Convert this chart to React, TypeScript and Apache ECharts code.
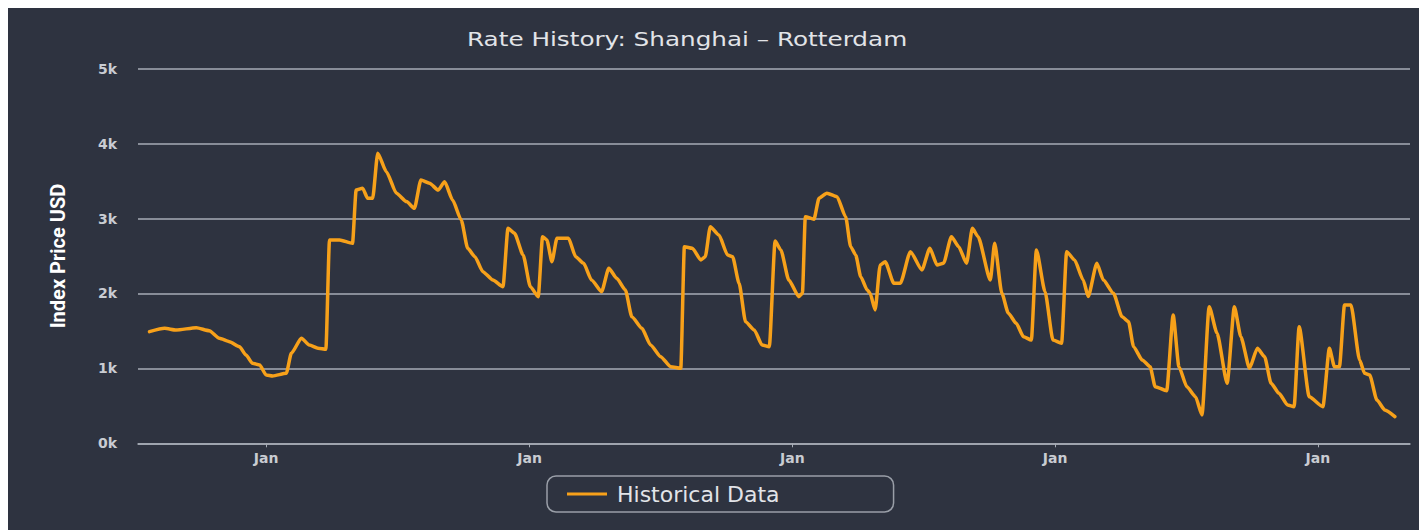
import React, { useEffect, useRef } from "react";
import * as echarts from "echarts";

const chartTitle = "Rate History: Shanghai – Rotterdam";
const yAxisTitle = "Index Price USD";
const seriesName = "Historical Data";
const yTicks = [0, 1000, 2000, 3000, 4000, 5000];
const axisStart = "2019-07-07";
const axisEnd = "2024-05-08";

const dates = [
  "2019-07-23", "2019-08-13", "2019-08-29", "2019-09-26", "2019-10-14", "2019-10-28", "2019-11-11", "2019-11-25",
  "2019-12-04", "2019-12-13", "2019-12-23", "2020-01-01", "2020-01-10", "2020-01-29", "2020-02-05", "2020-02-19",
  "2020-03-01", "2020-03-13", "2020-03-24", "2020-03-29", "2020-04-12", "2020-04-30", "2020-05-05", "2020-05-14",
  "2020-05-21", "2020-05-28", "2020-06-04", "2020-06-16", "2020-06-30", "2020-07-14", "2020-07-25", "2020-08-03",
  "2020-08-15", "2020-08-27", "2020-09-05", "2020-09-16", "2020-09-28", "2020-10-07", "2020-10-17", "2020-10-28",
  "2020-11-11", "2020-11-25", "2020-12-02", "2020-12-11", "2020-12-23", "2021-01-02", "2021-01-13", "2021-01-19",
  "2021-01-25", "2021-02-01", "2021-02-08", "2021-02-24", "2021-03-06", "2021-03-17", "2021-03-28", "2021-04-11",
  "2021-04-21", "2021-05-02", "2021-05-14", "2021-05-23", "2021-06-06", "2021-06-18", "2021-07-02", "2021-07-16",
  "2021-07-30", "2021-08-04", "2021-08-15", "2021-08-27", "2021-09-02", "2021-09-09", "2021-09-21", "2021-10-03",
  "2021-10-10", "2021-10-19", "2021-10-28", "2021-11-09", "2021-11-20", "2021-11-30", "2021-12-08", "2021-12-16",
  "2021-12-27", "2022-01-10", "2022-01-15", "2022-01-19", "2022-01-31", "2022-02-07", "2022-02-18", "2022-03-04",
  "2022-03-16", "2022-03-23", "2022-03-30", "2022-04-06", "2022-04-15", "2022-04-19", "2022-04-26", "2022-05-03",
  "2022-05-10", "2022-05-22", "2022-05-31", "2022-06-14", "2022-06-30", "2022-07-11", "2022-07-21", "2022-07-30",
  "2022-08-10", "2022-08-20", "2022-08-31", "2022-09-08", "2022-09-16", "2022-10-03", "2022-10-09", "2022-10-19",
  "2022-10-28", "2022-11-08", "2022-11-18", "2022-11-29", "2022-12-06", "2022-12-18", "2022-12-29", "2023-01-10",
  "2023-01-17", "2023-01-28", "2023-02-09", "2023-02-16", "2023-02-28", "2023-03-09", "2023-03-23", "2023-04-04",
  "2023-04-13", "2023-04-20", "2023-05-02", "2023-05-13", "2023-05-20", "2023-06-05", "2023-06-14", "2023-06-22",
  "2023-07-03", "2023-07-15", "2023-07-24", "2023-08-03", "2023-08-14", "2023-08-28", "2023-09-07", "2023-09-16",
  "2023-09-28", "2023-10-09", "2023-10-19", "2023-10-28", "2023-11-08", "2023-11-20", "2023-11-29", "2023-12-06",
  "2023-12-20", "2024-01-08", "2024-01-17", "2024-01-24", "2024-01-31", "2024-02-07", "2024-02-16", "2024-02-28",
  "2024-03-06", "2024-03-13", "2024-03-23", "2024-04-03", "2024-04-17",
];

const values = [
  1490, 1535, 1512, 1543, 1503, 1402, 1357, 1290,
  1179, 1068, 1045, 912, 898, 934, 1201, 1402,
  1312, 1268, 1255, 2714, 2714, 2670, 3381, 3404,
  3271, 3271, 3872, 3626, 3338, 3226, 3137, 3515,
  3471, 3381, 3492, 3248, 2981, 2603, 2491, 2291,
  2180, 2091, 2870, 2804, 2514, 2091, 1957, 2758,
  2714, 2424, 2737, 2737, 2491, 2403, 2180, 2024,
  2336, 2203, 2047, 1690, 1535, 1312, 1156, 1023,
  1001, 2625, 2603, 2447, 2491, 2892, 2781, 2514,
  2491, 2136, 1623, 1513, 1312, 1290, 2700, 2581,
  2180, 1957, 2003, 3025, 2990, 3271, 3338, 3292,
  3025, 2625, 2514, 2224, 2047, 2003, 1780, 2380,
  2424, 2136, 2136, 2558, 2314, 2603, 2380, 2403,
  2758, 2625, 2403, 2870, 2758, 2180, 2670, 2003,
  1736, 1602, 1423, 1379, 2581, 2024, 1379, 1335,
  2558, 2447, 2180, 1960, 2403, 2180, 2003, 1690,
  1623, 1290, 1112, 1023, 756, 702, 1713, 1023,
  756, 622, 378, 1824, 1468, 801, 1824, 1423,
  1001, 1268, 1156, 801, 667, 511, 489, 1557,
  622, 489, 1268, 1023, 1023, 1846, 1846, 1112,
  934, 912, 578, 445, 356,
];

export default function App() {
  const ref = useRef<HTMLDivElement>(null);

  useEffect(() => {
    document.body.style.overflow = "hidden";
    if (!ref.current) return;
    const chart = echarts.init(ref.current, undefined, { renderer: "svg" });
    const data = dates.map((d, i) => [d, values[i]]);
    const labelColor = "#c9ccd2";
    const gridColor = "#a7adb6";
    chart.setOption({
      animation: false,
      useUTC: true,
      backgroundColor: "#2e3340",
      graphic: [
        {
          type: "text",
          x: 459,
          y: 32,
          scaleX: 1.3,
          style: {
            text: chartTitle,
            fill: "#e2e4e8",
            font: "19px 'DejaVu Sans'",
            verticalAlign: "middle",
            align: "left",
          },
        },
      ],
      legend: {
        left: 539,
        top: 468,
        data: [seriesName],
        icon: "rect",
        itemWidth: 40,
        itemHeight: 3,
        padding: [7, 114, 7, 20],
        borderColor: "#9a9fa8",
        borderWidth: 1.5,
        borderRadius: 9,
        textStyle: {
          color: "#e2e4e8",
          fontSize: 22,
          fontFamily: "DejaVu Sans",
          padding: [0, 0, 0, 5],
        },
      },
      grid: { left: 130, right: 17, top: 60.7, bottom: 86.7 },
      xAxis: {
        type: "time",
        min: axisStart,
        max: axisEnd,
        minInterval: 365 * 86400000,
        maxInterval: 366 * 86400000,
        axisLine: { show: true, lineStyle: { color: gridColor, width: 1.5 } },
        axisTick: { show: true, length: 4, lineStyle: { color: gridColor } },
        splitLine: { show: false },
        axisLabel: {
          color: labelColor,
          fontSize: 14,
          fontWeight: "bold",
          fontFamily: "DejaVu Sans",
          margin: 8,
          formatter: (v: number) => {
            const d = new Date(v);
            return d.getUTCMonth() === 0 && d.getUTCDate() === 1 ? "Jan" : "";
          },
        },
      },
      yAxis: {
        type: "value",
        min: yTicks[0],
        max: yTicks[yTicks.length - 1],
        interval: 1000,
        name: yAxisTitle,
        nameLocation: "middle",
        nameRotate: 90,
        nameGap: 70,
        nameTextStyle: {
          color: "#ffffff",
          fontSize: 20,
          fontWeight: "bold",
          fontFamily: "Liberation Sans Narrow, Roboto, sans-serif",
        },
        axisLine: { show: false },
        axisTick: { show: false },
        splitLine: { show: true, lineStyle: { color: gridColor, width: 1.5 } },
        axisLabel: {
          color: labelColor,
          fontSize: 14,
          fontWeight: "bold",
          fontFamily: "DejaVu Sans",
          margin: 21,
          padding: [9, 0, 0, 0],
          formatter: (v: number) => v / 1000 + "k",
        },
      },
      series: [
        {
          name: seriesName,
          type: "line",
          data,
          showSymbol: false,
          smooth: 0.2,
          smoothMonotone: "x",
          lineStyle: { color: "#f7a11a", width: 3.5, join: "round", cap: "round" },
          itemStyle: { color: "#f7a11a" },
        },
      ],
    });
    return () => chart.dispose();
  }, []);

  return <div ref={ref} style={{ width: 1419, height: 522 }} />;
}
